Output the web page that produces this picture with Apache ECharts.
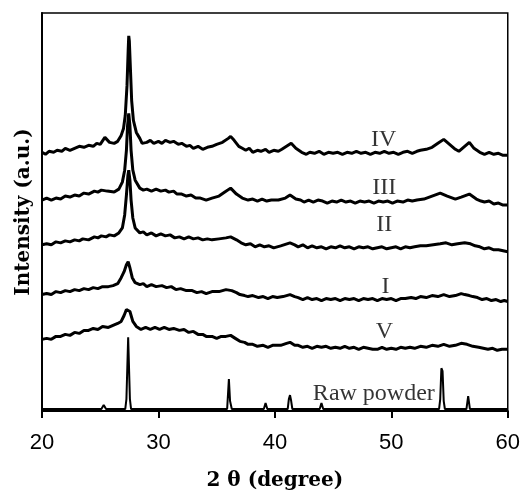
<!DOCTYPE html>
<html>
<head>
<meta charset="utf-8">
<script src="https://cdn.jsdelivr.net/npm/echarts@6/dist/echarts.min.js"></script>
<style>
	html, body {margin: 0; padding: 0; background: #fff;}
	#chart {width: 523px; height: 496px;}
</style>
</head>
<body>
<div id="chart"></div>
<script>
/* 2θ / intensity (a.u.) */
const curveIV = [
	[20, 260], [20.3, 258], [20.6, 261], [21, 260], [21.3, 262], [21.7, 261], [22, 264], [22.4, 262],
	[22.8, 264], [23.2, 266], [23.6, 265], [24, 267], [24.4, 266], [24.7, 269], [25, 268], [25.4, 275],
	[25.8, 270], [26.2, 269], [26.5, 271], [26.8, 277], [27, 284], [27.15, 297], [27.3, 327], [27.4, 362],
	[27.45, 377], [27.5, 372], [27.6, 342], [27.7, 312], [27.85, 292], [28.1, 280], [28.4, 274], [28.6, 269],
	[29, 270], [29.3, 272], [29.6, 269], [30, 271], [30.3, 269], [30.6, 272], [31, 270], [31.3, 271],
	[31.7, 268], [32, 269], [32.4, 266], [32.7, 267], [33, 264], [33.4, 266], [33.8, 263], [34.2, 265],
	[34.6, 266], [35, 268], [35.5, 270], [36, 274], [36.2, 276], [36.5, 272], [36.9, 266], [37.2, 264],
	[37.5, 262], [37.8, 264], [38.1, 260], [38.5, 262], [38.8, 261], [39.2, 263], [39.5, 260], [39.9, 262],
	[40.3, 261], [40.6, 263], [41, 266], [41.4, 269], [41.8, 264], [42.3, 260], [42.7, 258], [43, 260],
	[43.4, 259], [43.8, 261], [44.2, 258], [44.6, 260], [45, 259], [45.4, 260], [45.8, 258], [46.2, 260],
	[46.6, 259], [47, 261], [47.4, 259], [47.8, 260], [48.2, 258], [48.6, 260], [49, 259], [49.4, 261],
	[49.8, 259], [50.2, 260], [50.6, 258], [51, 260], [51.4, 261], [51.8, 259], [52.2, 261], [52.5, 262],
	[53, 263], [53.5, 265], [54, 269], [54.5, 273], [55, 268], [55.5, 263], [55.8, 261], [56.2, 265],
	[56.7, 270], [57.1, 264], [57.6, 260], [58, 258], [58.4, 260], [58.8, 258], [59.2, 259], [59.6, 257],
	[60, 257]
];
const curveIII = [
	[20, 212], [20.4, 214], [20.8, 212], [21.2, 214], [21.6, 213], [22, 216], [22.4, 215], [22.8, 217],
	[23.2, 216], [23.6, 219], [24, 218], [24.5, 221], [24.8, 220], [25.1, 222], [25.6, 221], [26.2, 220],
	[26.6, 223], [26.9, 230], [27.1, 242], [27.25, 262], [27.35, 287], [27.45, 299], [27.55, 287], [27.65, 262],
	[27.8, 242], [28, 232], [28.4, 224], [28.7, 222], [29, 223], [29.4, 221], [29.8, 223], [30.2, 221],
	[30.6, 222], [30.9, 220], [31.3, 221], [31.6, 218], [32, 218], [32.4, 216], [32.8, 217], [33.2, 214],
	[33.6, 214], [34.1, 212], [34.6, 214], [35.2, 216], [35.7, 220], [36.2, 224], [36.7, 218], [37.2, 214],
	[37.7, 212], [38.1, 213], [38.5, 211], [38.9, 213], [39.3, 211], [39.7, 212], [40.3, 212], [40.9, 214],
	[41.3, 217], [41.8, 213], [42.2, 212], [42.5, 210], [42.9, 212], [43.3, 210], [43.7, 212], [44.1, 211],
	[44.5, 209], [44.9, 211], [45.3, 210], [45.7, 212], [46.1, 210], [46.5, 211], [46.9, 209], [47.3, 211],
	[47.7, 210], [48.1, 211], [48.5, 209], [48.9, 211], [49.3, 210], [49.7, 211], [50.1, 209], [50.5, 211],
	[51, 210], [51.4, 212], [51.8, 211], [52.2, 212], [52.8, 213], [53.5, 216], [54.2, 219], [54.8, 216],
	[55.5, 213], [56, 215], [56.7, 218], [57.3, 213], [57.7, 211], [58, 210], [58.4, 211], [58.8, 208],
	[59.2, 209], [59.6, 207], [60, 207]
];
const curveII = [
	[20, 167], [20.4, 168], [20.8, 167], [21.2, 170], [21.6, 169], [22, 171], [22.4, 170], [22.8, 172],
	[23.2, 171], [23.5, 173], [24, 172], [24.5, 175], [24.8, 174], [25.1, 176], [25.5, 175], [25.8, 177],
	[26.2, 176], [26.6, 179], [26.9, 184], [27.1, 197], [27.25, 217], [27.38, 237], [27.45, 242], [27.55, 232],
	[27.65, 212], [27.8, 194], [28, 184], [28.4, 179], [28.7, 180], [29, 177], [29.4, 179], [29.8, 176],
	[30.2, 178], [30.6, 176], [31, 177], [31.4, 174], [31.8, 175], [32.2, 173], [32.6, 175], [33, 173],
	[33.4, 174], [33.8, 172], [34.2, 173], [34.6, 172], [35.2, 173], [35.8, 174], [36.2, 175], [36.7, 172],
	[37.1, 169], [37.5, 167], [37.9, 168], [38.3, 165], [38.7, 167], [39.1, 165], [39.5, 166], [39.9, 164],
	[40.5, 166], [41.3, 169], [41.7, 167], [42, 165], [42.4, 167], [42.8, 164], [43.2, 166], [43.6, 164],
	[44, 165], [44.4, 163], [44.8, 165], [45.2, 164], [45.6, 166], [46, 164], [46.4, 165], [46.8, 163],
	[47.2, 165], [47.6, 164], [48, 165], [48.4, 163], [48.8, 164], [49.2, 165], [49.6, 163], [50, 164],
	[50.4, 165], [50.8, 163], [51.2, 165], [51.6, 164], [52, 165], [52.5, 166], [53, 166], [53.6, 167],
	[54.2, 168], [54.7, 169], [55.2, 167], [55.7, 168], [56.3, 169], [56.8, 168], [57.2, 166], [57.6, 165],
	[58, 163], [58.4, 164], [58.8, 162], [59.2, 162], [59.6, 161], [60, 160]
];
const curveI = [
	[20, 117], [20.4, 118], [20.8, 117], [21.2, 120], [21.6, 119], [22, 121], [22.4, 120], [22.8, 122],
	[23.2, 121], [23.6, 123], [24, 122], [24.4, 124], [24.8, 123], [25.2, 125], [25.7, 125], [26.1, 126],
	[26.5, 128], [26.8, 134], [27.05, 140], [27.25, 147], [27.4, 150], [27.55, 144], [27.75, 134], [28, 129],
	[28.4, 127], [28.7, 128], [29, 125], [29.4, 127], [29.8, 125], [30.3, 126], [30.7, 124], [31.1, 125],
	[31.5, 122], [31.9, 123], [32.4, 121], [32.9, 121], [33.3, 119], [33.7, 120], [34.1, 118], [34.6, 120],
	[35.2, 120], [35.8, 122], [36.3, 121], [36.7, 119], [37, 117], [37.4, 116], [37.7, 115], [38.1, 116],
	[38.6, 114], [39, 115], [39.4, 113], [39.8, 115], [40.2, 114], [40.7, 115], [41.3, 117], [41.7, 115],
	[42, 114], [42.4, 112], [42.8, 114], [43.2, 112], [43.6, 113], [44, 111], [44.4, 113], [44.8, 112],
	[45.2, 113], [45.6, 111], [46, 113], [46.4, 112], [46.8, 113], [47.2, 111], [47.6, 113], [48, 112],
	[48.4, 113], [48.8, 111], [49.2, 113], [49.6, 112], [50, 113], [50.4, 111], [50.8, 113], [51.2, 113],
	[51.7, 114], [52.1, 113], [52.5, 115], [53, 114], [53.5, 116], [54, 115], [54.5, 117], [55, 115],
	[55.5, 116], [56, 118], [56.3, 117], [56.7, 116], [57, 115], [57.4, 114], [57.8, 112], [58.2, 113],
	[58.6, 111], [59, 112], [59.4, 110], [59.7, 111], [60, 110]
];
const curveV = [
	[20, 72], [20.4, 73], [20.8, 72], [21.2, 75], [21.6, 75], [22, 77], [22.4, 76], [22.8, 79],
	[23.2, 78], [23.6, 81], [24, 81], [24.4, 83], [24.8, 82], [25.2, 85], [25.7, 84], [26.1, 86],
	[26.5, 88], [26.8, 90], [27.05, 96], [27.25, 102], [27.4, 104], [27.55, 100], [27.8, 90], [28.1, 85],
	[28.5, 82], [28.9, 84], [29.3, 82], [29.7, 84], [30.1, 82], [30.5, 84], [30.9, 82], [31.3, 83],
	[31.8, 81], [32.2, 82], [32.6, 79], [33, 80], [33.4, 77], [33.8, 77], [34.1, 75], [34.6, 75],
	[35, 73], [35.4, 75], [35.8, 75], [36.2, 76], [36.6, 73], [37, 70], [37.4, 69], [37.7, 67],
	[38.1, 67], [38.5, 65], [39, 66], [39.4, 64], [39.8, 66], [40.5, 66], [41, 68], [41.3, 69],
	[41.7, 66], [42, 66], [42.4, 64], [42.8, 65], [43.2, 63], [43.6, 65], [44, 64], [44.4, 65],
	[44.8, 63], [45.2, 64], [45.6, 63], [46, 65], [46.4, 63], [46.8, 64], [47.2, 62], [47.6, 64],
	[48, 63], [48.4, 62], [48.8, 62], [49.2, 64], [49.6, 62], [50, 63], [50.4, 62], [50.8, 64],
	[51.2, 63], [51.6, 64], [52, 63], [52.5, 65], [53, 64], [53.5, 66], [54, 65], [54.5, 67],
	[55, 65], [55.5, 66], [56, 68], [56.5, 67], [57, 65], [57.5, 64], [57.9, 63], [58.3, 62],
	[58.7, 63], [59.1, 61], [59.5, 62], [60, 62]
];
const rawPowder = [
	[20, 2], [25.1, 2], [25.3, 6], [25.5, 2], [27.15, 2], [27.25, 12], [27.35, 14], [27.4, 74],
	[27.5, 74], [27.55, 12], [27.65, 2], [35.9, 2], [36.05, 32], [36.15, 10], [36.3, 2], [39.05, 2],
	[39.2, 8], [39.35, 2], [41.1, 2], [41.2, 12], [41.3, 16], [41.4, 10], [41.5, 2], [43.85, 2],
	[44, 8], [44.15, 2], [54.1, 2], [54.2, 12], [54.3, 43], [54.4, 40], [54.5, 10], [54.6, 2],
	[56.45, 2], [56.6, 15], [56.75, 2], [60, 2]
];

/* 曲线旁的标注 */
const labelNames = ['IV', 'III', 'II', 'I', 'V', 'Raw powder'];
const labelCoords = [[49.35, 273], [49.4, 224], [49.4, 187], [49.5, 125], [49.4, 80], [48.5, 17]];

const xTicks = [20, 30, 40, 50, 60];

const chart = echarts.init(document.getElementById('chart'));

function curve(name, data, width) {
	return {
		name: name,
		type: 'line',
		data: data,
		showSymbol: false,
		silent: true,
		lineStyle: {color: '#000', width: width},
		z: 3
	};
}

chart.setOption({
	animation: false,
	grid: {
		left: 42,
		right: 12,
		top: 13,
		bottom: 84,
		show: true,
		borderColor: '#000',
		borderWidth: 1.5
	},
	xAxis: {
		type: 'value',
		min: xTicks[0],
		max: xTicks[xTicks.length - 1],
		interval: 10,
		name: '2 θ (degree)',
		nameLocation: 'middle',
		nameGap: 60,
		nameTextStyle: {
			fontFamily: 'DejaVu Serif',
			fontWeight: 'bold',
			fontSize: 20,
			color: '#000'
		},
		axisLine: {lineStyle: {color: '#000', width: 2}},
		axisTick: {length: 7, lineStyle: {color: '#000', width: 2}},
		axisLabel: {
			margin: 21,
			fontFamily: "'Liberation Sans Narrow', 'Liberation Sans', sans-serif",
			fontSize: 22,
			color: '#000'
		},
		splitLine: {show: false}
	},
	yAxis: {
		type: 'value',
		min: 0,
		max: 400,
		name: 'Intensity (a.u.)',
		nameLocation: 'middle',
		nameGap: 8,
		nameTextStyle: {
			fontFamily: 'DejaVu Serif',
			fontWeight: 'bold',
			fontSize: 20,
			color: '#000'
		},
		axisLine: {show: true, lineStyle: {color: '#000', width: 2}},
		axisTick: {show: false},
		axisLabel: {show: false},
		splitLine: {show: false}
	},
	series: [
		curve('IV', curveIV, 3),
		curve('III', curveIII, 3),
		curve('II', curveII, 3),
		curve('I', curveI, 3),
		curve('V', curveV, 3),
		curve('Raw powder', rawPowder, 2),
		{
			type: 'scatter',
			silent: true,
			symbolSize: 1,
			itemStyle: {color: 'rgba(0,0,0,0)'},
			data: labelNames.map(function (n, i) {
				return {name: n, value: labelCoords[i]};
			}),
			label: {
				show: true,
				position: 'inside',
				formatter: '{b}',
				fontFamily: 'Liberation Serif',
				fontSize: 24,
				color: '#000'
			},
			z: 4
		}
	]
});
</script>
</body>
</html>
